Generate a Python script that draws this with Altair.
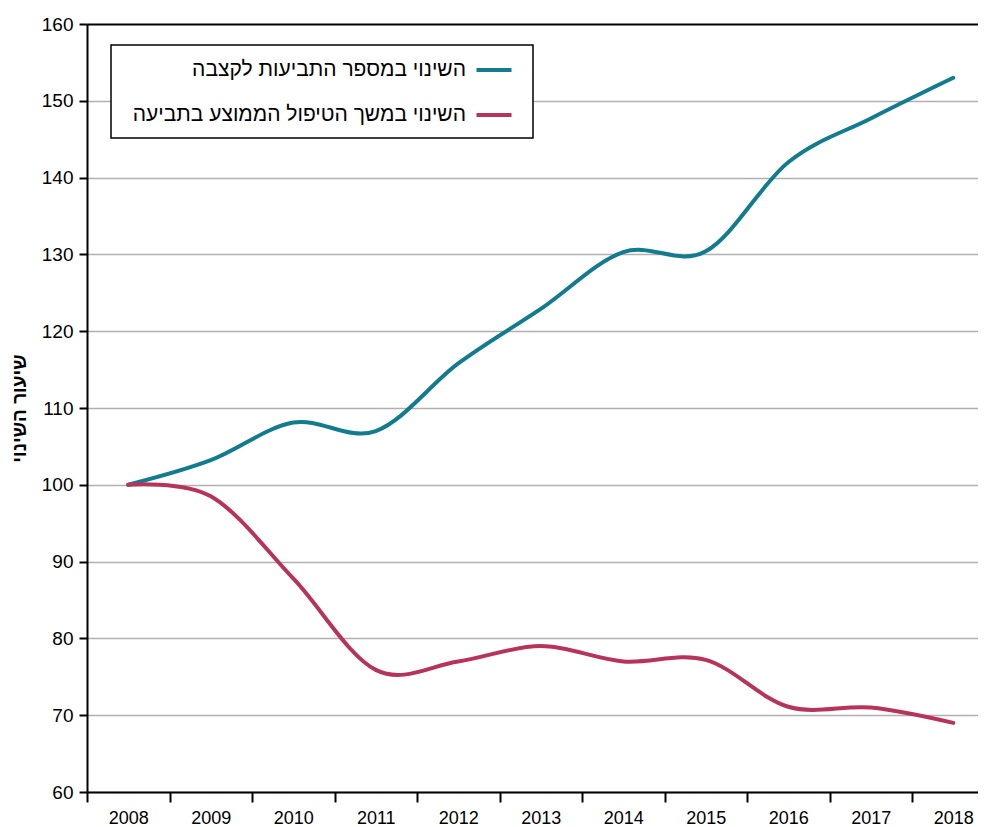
import altair as alt
import pandas as pd

years = [2008, 2009, 2010, 2011, 2012, 2013, 2014, 2015, 2016, 2017, 2018]
claims = [100, 103.2, 108.1, 107.0, 115.8, 122.9, 130.3, 130.4, 142.0, 147.7, 153.0]
duration = [100, 98.5, 87.8, 75.9, 77.0, 79.0, 77.0, 77.2, 71.1, 71.0, 69.0]
series_names = ["השינוי במספר התביעות לקצבה", "השינוי במשך הטיפול הממוצע בתביעה"]
series_colors = ["#137B8E", "#B6345A"]
y_title = "שיעור השינוי"
band_ticks = [2007.5, 2008.5, 2009.5, 2010.5, 2011.5, 2012.5, 2013.5, 2014.5, 2015.5, 2016.5, 2017.5]

rows = []
for y, a, b in zip(years, claims, duration):
    rows.append({"year": y, "value": a, "series": series_names[0]})
    rows.append({"year": y, "value": b, "series": series_names[1]})
df = pd.DataFrame(rows)

FONT = "Liberation Sans"

chart = alt.Chart(df).mark_line(interpolate="cardinal", strokeWidth=4, strokeCap="round").encode(
    x=alt.X("year:Q",
            scale=alt.Scale(domain=[2007.5, 2018.3], nice=False, zero=False),
            axis=alt.Axis(values=band_ticks, labelExpr="'' + (datum.value + 0.5)",
                          labelOffset=41.25, labelFlush=False, labelOverlap=False,
                          grid=False, tickSize=10, tickWidth=2, tickColor="black",
                          domainColor="black", domainWidth=2, labelPadding=7,
                          labelFontSize=18, labelFont=FONT, labelColor="black", title=None)),
    y=alt.Y("value:Q",
            scale=alt.Scale(domain=[60, 160], nice=False, zero=False),
            axis=alt.Axis(values=list(range(60, 161, 10)), tickSize=8, tickWidth=2,
                          tickColor="black", domainColor="black", domainWidth=2,
                          labelPadding=6, labelFontSize=19, labelFont=FONT, labelColor="black",
                          gridColor=alt.condition("datum.value == 160", alt.value("black"), alt.value("#b0b0b0")),
                          gridWidth=alt.condition("datum.value == 160", alt.value(2), alt.value(1.5)),
                          title=y_title, titleFont=FONT, titleFontSize=19, titleFontWeight="bold",
                          titleColor="black", titlePadding=12)),
    color=alt.Color("series:N",
                    scale=alt.Scale(domain=series_names, range=series_colors),
                    legend=alt.Legend(orient="none", legendX=24, legendY=21, title=None,
                                      symbolType="M-1.75,0H1.75", symbolSize=400, symbolStrokeWidth=4,
                                      symbolOffset=358,
                                      labelAlign="right", labelOffset={"expr": "-40"},
                                      labelFontSize=21, labelFont=FONT, labelColor="black",
                                      labelLimit=500,
                                      strokeColor="black", fillColor="white",
                                      padding=13, rowPadding=23)),
).properties(
    width=891, height=768,
    autosize=alt.AutoSizeParams(type="none"),
    padding={"left": 79, "top": 16, "right": 0, "bottom": 35},
).configure_view(stroke=None).configure_legend(strokeWidth=1.5)

chart.save("out.html", embed_options={"renderer": "svg", "actions": False})
